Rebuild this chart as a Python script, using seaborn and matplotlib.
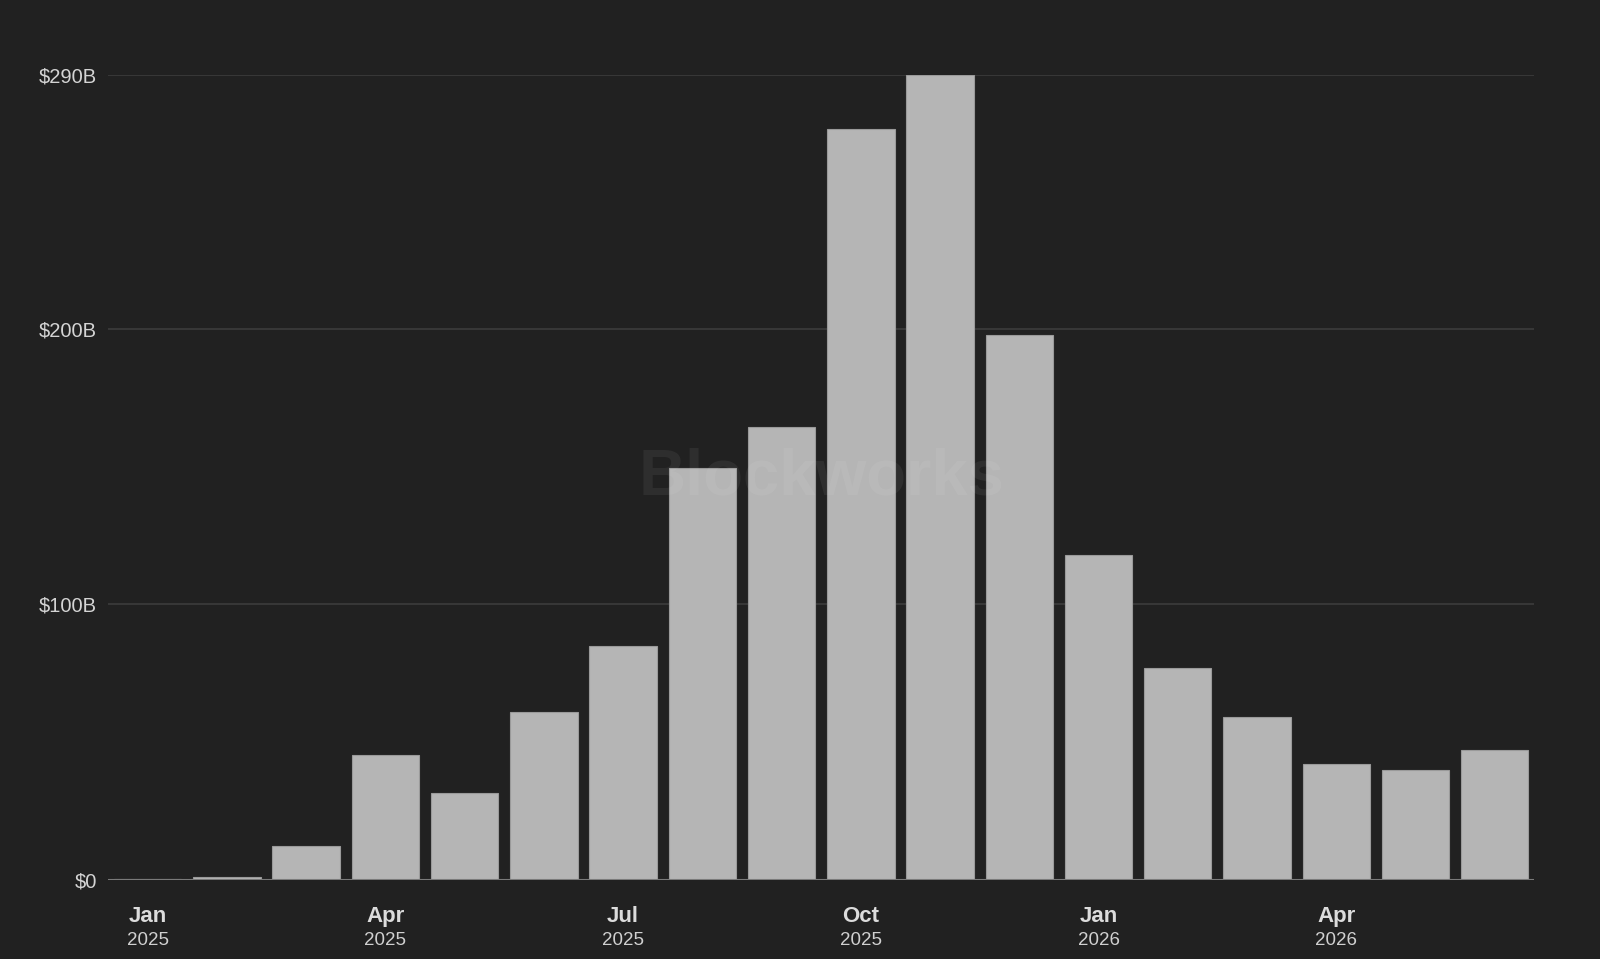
import pandas as pd
import seaborn as sns
import matplotlib.pyplot as plt
import matplotlib.transforms as mtransforms

# Monthly values, billions of USD
months = ['2025-01', '2025-02', '2025-03', '2025-04', '2025-05', '2025-06',
          '2025-07', '2025-08', '2025-09', '2025-10', '2025-11', '2025-12',
          '2026-01', '2026-02', '2026-03', '2026-04', '2026-05', '2026-06']
values = [0.3, 1.2, 12.2, 45.2, 31.5, 61.0,
          85.0, 149.6, 164.4, 272.6, 292.2, 197.8,
          118.0, 77.0, 59.0, 42.0, 40.0, 47.0]

tick_months = ['Jan', 'Apr', 'Jul', 'Oct', 'Jan', 'Apr']
tick_years = ['2025', '2025', '2025', '2025', '2026', '2026']
tick_pos = [0, 3, 6, 9, 12, 15]

# top tick sits at the series max, labelled rounded
y_ticks = [0, 100, 200, max(values)]
y_labels = ['$0', '$100B', '$200B', '$290B']

df = pd.DataFrame({'month': months, 'value': values})

bg = '#212121'
sns.set_style('dark', {'axes.facecolor': bg, 'figure.facecolor': bg})
plt.rcParams['font.family'] = ['Liberation Sans', 'DejaVu Sans']

fig = plt.figure(figsize=(16, 9.59), dpi=100)
ax = fig.add_axes([0.0675, 0.0824, 0.8915, 0.8399])

sns.barplot(data=df, x='month', y='value', order=months, color='#b5b5b5',
            saturation=1, width=0.85, edgecolor='#9a9a9a', linewidth=0.8,
            ax=ax, zorder=2)

ax.set_xlim(-0.5, len(months) - 0.5)
ax.set_ylim(0, max(values))

# grid and baseline
for t in y_ticks[1:]:
    ax.axhline(t, color='#3c3c3c', linewidth=1.2, zorder=1)
ax.axhline(0, color='#7a7a7a', linewidth=1.5, zorder=3)

for s in ax.spines.values():
    s.set_visible(False)

ax.set_yticks(y_ticks)
ax.set_yticklabels(y_labels, fontsize=14.5, color='#d4d4d4')
ax.tick_params(axis='y', length=0, pad=8)

ax.set_xticks(tick_pos)
ax.set_xticklabels(tick_months, fontsize=16, fontweight='bold', color='#dcdcdc')
ax.tick_params(axis='x', length=0, pad=19)

trans = mtransforms.blended_transform_factory(ax.transData, ax.transAxes)
for p, yr in zip(tick_pos, tick_years):
    ax.text(p, -0.064, yr, transform=trans, ha='center', va='top',
            fontsize=13.5, color='#d0d0d0')

ax.set_xlabel('')
ax.set_ylabel('')

# watermark
ax.text(0.5, 0.5, 'Blockworks', transform=ax.transAxes, ha='center',
        va='center', fontsize=47, fontweight='bold', color='white',
        alpha=0.06, zorder=5)

fig.savefig('out.png', dpi=100, facecolor=bg)
